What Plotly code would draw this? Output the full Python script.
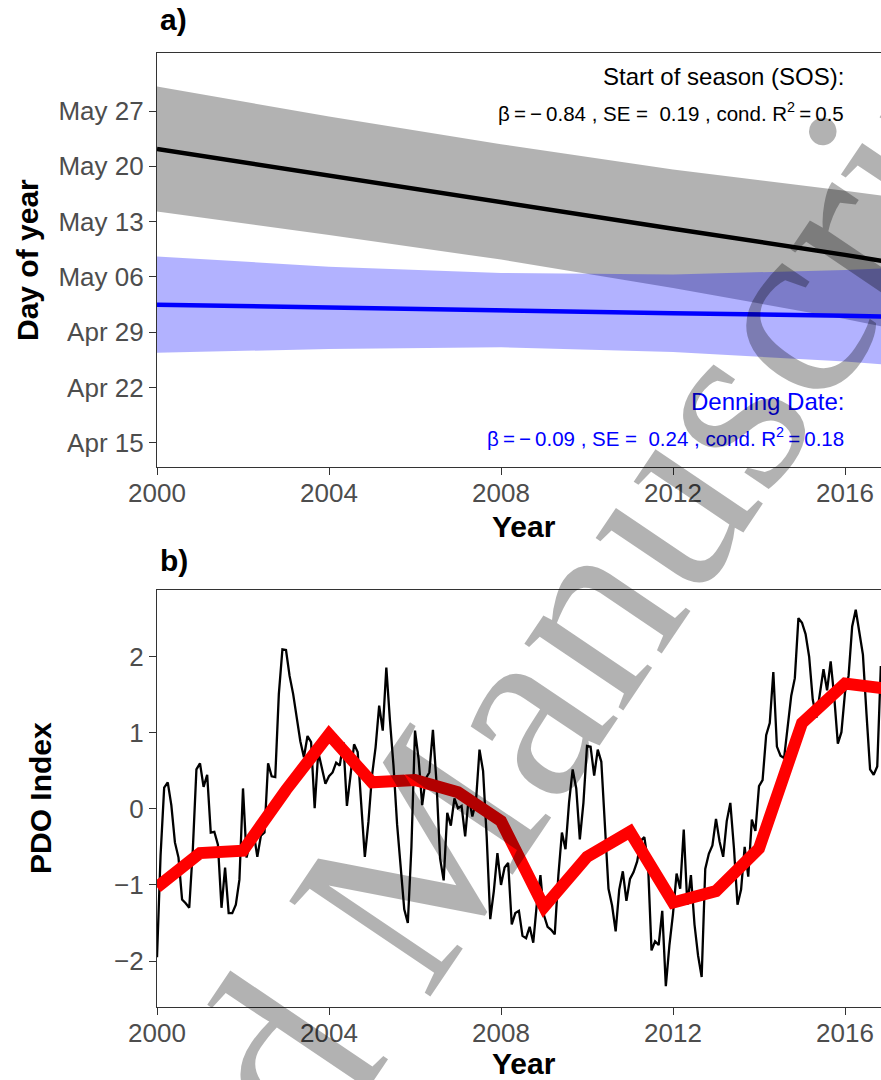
import plotly.graph_objects as go

# ---------------- Panel a) data ----------------
fit_years = [2000, 2004, 2008, 2012, 2016, 2017]
sos_fit = [142.2, 138.8, 135.5, 132.1, 128.8, 127.9]
sos_lower = [134.3, 131.3, 128.2, 124.6, 120.7, 119.6]
sos_upper = [150.1, 146.3, 142.8, 139.6, 136.9, 136.2]
den_fit = [122.5, 122.1, 121.8, 121.4, 121.1, 121.0]
den_lower = [116.4, 116.9, 117.1, 116.5, 115.3, 114.9]
den_upper = [128.6, 127.3, 126.5, 126.3, 126.9, 127.1]

doy_tickvals = [105, 112, 119, 126, 133, 140, 147]
doy_ticktext = ["Apr 15", "Apr 22", "Apr 29", "May 06", "May 13", "May 20", "May 27"]
year_ticks = [2000, 2004, 2008, 2012, 2016]
year_ticktext = ["2000", "2004", "2008", "2012", "2016"]

# ---------------- Panel b) data ----------------
pdo_start_year = 2000
pdo_monthly = [
    -1.95, -0.61, 0.28, 0.35, 0.05, -0.44, -0.64, -1.19, -1.24, -1.30, -0.53, 0.52,   # 2000
    0.60, 0.29, 0.45, -0.31, -0.30, -0.47, -1.30, -0.77, -1.37, -1.37, -1.26, -0.93,  # 2001
    0.27, -0.64, -0.43, -0.32, -0.63, -0.35, -0.31, 0.60, 0.43, 0.42, 1.51, 2.10,     # 2002
    2.09, 1.75, 1.51, 1.18, 0.89, 0.68, 0.96, 0.88, 0.01, 0.75, 0.52, 0.33,           # 2003
    0.43, 0.48, 0.61, 0.57, 0.88, 0.04, 0.44, 0.85, 0.75, 0.11, -0.63, -0.17,         # 2004
    0.44, 0.81, 1.36, 1.03, 1.86, 1.17, 0.57, -0.20, -0.80, -1.32, -1.50, -0.50,      # 2005
    1.03, 0.66, 0.05, 0.40, 0.48, 1.04, 0.35, -0.65, -0.94, -0.05, -0.22, 0.14,       # 2006
    0.01, 0.04, -0.36, 0.16, -0.10, 0.09, 0.78, 0.50, -0.36, -1.45, -1.08, -0.58,     # 2007
    -1.00, -0.77, -0.71, -1.52, -1.37, -1.34, -1.67, -1.70, -1.55, -1.76, -1.25, -0.87,  # 2008
    -1.40, -1.55, -1.59, -1.65, -0.88, -0.31, -0.53, 0.09, 0.52, 0.27, -0.40, 0.08,   # 2009
    0.83, 0.82, 0.44, 0.78, 0.62, -0.22, -1.05, -1.27, -1.61, -1.06, -0.82, -1.21,    # 2010
    -0.92, -0.83, -0.69, -0.42, -0.37, -0.69, -1.86, -1.74, -1.79, -1.34, -2.33, -1.79,  # 2011
    -1.38, -0.85, -1.05, -0.27, -1.26, -0.87, -1.52, -1.93, -2.21, -0.79, -0.59, -0.48,  # 2012
    -0.13, -0.43, -0.63, -0.16, 0.08, -0.51, -1.26, -1.06, -0.50, -0.89, -0.14, -0.29,   # 2013
    0.30, 0.38, 0.97, 1.13, 1.80, 0.82, 0.70, 0.67, 1.08, 1.49, 1.72, 2.51,           # 2014
    2.45, 2.30, 2.00, 1.44, 1.20, 1.54, 1.84, 1.56, 1.94, 1.47, 0.86, 1.01,           # 2015
    1.53, 1.75, 2.40, 2.62, 2.35, 2.03, 1.25, 0.52, 0.45, 0.56, 1.88, 1.17,           # 2016
]
pdo_years = list(range(2000, 2018))
pdo_annual = [-1.03, -0.58, -0.55, 0.25, 0.98, 0.35, 0.38, 0.22, -0.16, -1.29,
              -0.63, -0.30, -1.23, -1.08, -0.52, 1.13, 1.65, 1.58]

pdo_ticks = [-2, -1, 0, 1, 2]
pdo_ticktext = ["\u22122", "\u22121", "0", "1", "2"]

month_x = [pdo_start_year + i / 12 for i in range(len(pdo_monthly))]

W, H = 881, 1080
FONT = "Liberation Sans"
TICKC = "#4d4d4d"
LINEC = "#333333"

fig = go.Figure()

# panel a bands + lines
fig.add_trace(go.Scatter(x=fit_years, y=sos_lower, mode="lines", line=dict(width=0),
                         showlegend=False, hoverinfo="skip", xaxis="x", yaxis="y"))
fig.add_trace(go.Scatter(x=fit_years, y=sos_upper, mode="lines", line=dict(width=0),
                         fill="tonexty", fillcolor="rgba(0,0,0,0.3)",
                         showlegend=False, hoverinfo="skip", xaxis="x", yaxis="y"))
fig.add_trace(go.Scatter(x=fit_years, y=den_lower, mode="lines", line=dict(width=0),
                         showlegend=False, hoverinfo="skip", xaxis="x", yaxis="y"))
fig.add_trace(go.Scatter(x=fit_years, y=den_upper, mode="lines", line=dict(width=0),
                         fill="tonexty", fillcolor="rgba(0,0,255,0.3)",
                         showlegend=False, hoverinfo="skip", xaxis="x", yaxis="y"))
fig.add_trace(go.Scatter(x=fit_years, y=sos_fit, mode="lines", line=dict(color="black", width=4.5),
                         showlegend=False, xaxis="x", yaxis="y"))
fig.add_trace(go.Scatter(x=fit_years, y=den_fit, mode="lines", line=dict(color="#0000ff", width=4.5),
                         showlegend=False, xaxis="x", yaxis="y"))

# panel b
fig.add_trace(go.Scatter(x=month_x, y=pdo_monthly, mode="lines", line=dict(color="black", width=2.3),
                         showlegend=False, xaxis="x2", yaxis="y2"))
fig.add_trace(go.Scatter(x=pdo_years, y=pdo_annual, mode="lines", line=dict(color="#ff0000", width=12),
                         showlegend=False, xaxis="x2", yaxis="y2"))

def px_x(px):
    return px / W

def px_y(py):
    return 1 - py / H

x_left_px = 157
x_range = [2000, 2000 + (W - x_left_px) / 43.0]

axis_common = dict(showgrid=False, zeroline=False, showline=True, linecolor=LINEC, linewidth=1.2,
                   ticks="outside", ticklen=7, tickwidth=1.2, tickcolor=LINEC, automargin=False,
                   tickfont=dict(family=FONT, size=26, color=TICKC))

fig.update_layout(
    width=W, height=H, margin=dict(l=0, r=0, t=0, b=0, autoexpand=False),
    paper_bgcolor="white", plot_bgcolor="white",
    showlegend=False,
    xaxis=dict(domain=[px_x(x_left_px), 1], range=x_range, tickvals=year_ticks, ticktext=year_ticktext,
               anchor="y", mirror=True, ticklabelstandoff=-4, **axis_common),
    yaxis=dict(domain=[px_y(467), px_y(53)], range=[101.96, 154.34], tickvals=doy_tickvals,
               ticktext=doy_ticktext, anchor="x", **axis_common),
    xaxis2=dict(domain=[px_x(x_left_px), 1], range=x_range, tickvals=year_ticks, ticktext=year_ticktext,
                anchor="y2", mirror=True, ticklabelstandoff=-4, **axis_common),
    yaxis2=dict(domain=[px_y(1007), px_y(590)], range=[-2.605, 2.88], tickvals=pdo_ticks,
                ticktext=pdo_ticktext, anchor="x2", **axis_common),
)

ann = []
bold = dict(family=FONT, size=30, color="black")

def pann(text, px, py, xanchor="center", **kw):
    d = dict(text=text, x=px_x(px), y=px_y(py), xref="paper", yref="paper",
             xanchor=xanchor, yanchor="middle", showarrow=False, font=bold)
    d.update(kw)
    return d

ann.append(pann("<b>a)</b>", 158, 20, xanchor="left"))
ann.append(pann("<b>b)</b>", 158, 560, xanchor="left"))
ann.append(pann("<b>Day of year</b>", 28, 260, textangle=-90))
ann.append(pann("<b>PDO Index</b>", 40, 798, textangle=-90))
ann.append(pann("<b>Year</b>", 524, 526))
ann.append(pann("<b>Year</b>", 524, 1063))

T = "\u2009"
head_font = dict(family=FONT, size=24, color="black")
stat_font = dict(family=FONT, size=20.5, color="black")
blue_head = dict(family=FONT, size=24, color="#0000ff")
blue_stat = dict(family=FONT, size=20.5, color="#0000ff")
ann.append(dict(text="Start of season (SOS):", x=2016.02, y=151.4, xref="x", yref="y",
                xanchor="right", yanchor="middle", showarrow=False, font=head_font))
ann.append(dict(text="\u03b2" + T + "=" + T + "\u2212" + T + "0.84 , SE =\u00a0\u00a00.19 , cond. R<sup>2</sup>" + T + "=" + T + "0.5",
                x=2016.02, y=146.9, xref="x", yref="y",
                xanchor="right", yanchor="middle", showarrow=False, font=stat_font))
ann.append(dict(text="Denning Date:", x=2016.02, y=110.3, xref="x", yref="y",
                xanchor="right", yanchor="middle", showarrow=False, font=blue_head))
ann.append(dict(text="\u03b2" + T + "=" + T + "\u2212" + T + "0.09 , SE =\u00a0\u00a00.24 , cond. R<sup>2</sup>" + T + "=" + T + "0.18",
                x=2016.02, y=105.8, xref="x", yref="y",
                xanchor="right", yanchor="middle", showarrow=False, font=blue_stat))

# watermark
ann.append(dict(text="Accepted Manuscript", x=px_x(392), y=px_y(896), xref="paper", yref="paper",
                xanchor="center", yanchor="middle", textangle=-56, showarrow=False,
                font=dict(family="Liberation Serif", size=260, color="rgba(0,0,0,0.3)")))

fig.update_layout(annotations=ann)

fig.write_html("out.html", config={"displayModeBar": False},
               post_script="document.body.style.margin='0px';")
